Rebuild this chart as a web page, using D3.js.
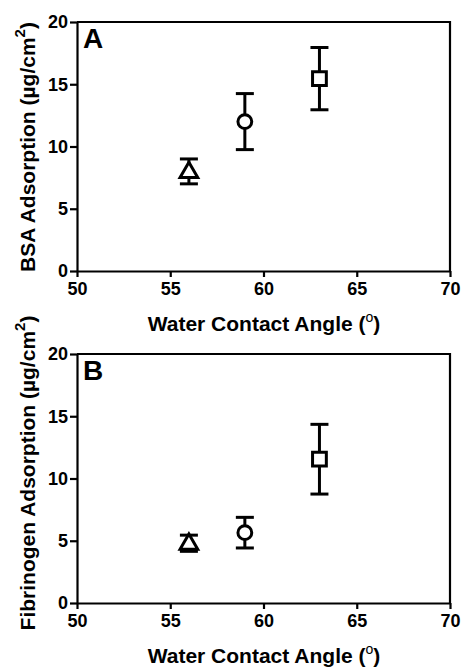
<!DOCTYPE html>
<html>
<head>
<meta charset="utf-8">
<script src="https://cdn.jsdelivr.net/npm/d3@7"></script>
<style>
  html, body { margin: 0; padding: 0; background: #fff; }
  svg { display: block; }
  text { font-family: "Liberation Sans", Arial, sans-serif; font-weight: bold; fill: #000; }
</style>
</head>
<body>
<svg id="chart" width="461" height="667"></svg>
<script>
// Water contact angle (degrees) for the three surfaces
const angles = [56, 59, 63];
const markerShapes = ["triangle", "circle", "square"];

// BSA adsorption, mean and error (µg/cm²)
const bsaMean = [8.0, 12.0, 15.45];
const bsaErr = [1.0, 2.25, 2.5];

// Fibrinogen adsorption, mean and error (µg/cm²)
const fibMean = [4.8, 5.65, 11.55];
const fibErr = [0.65, 1.23, 2.8];

const xTicks = [50, 55, 60, 65, 70];
const yTicks = [0, 5, 10, 15, 20];

const panels = [
  { letter: "A", protein: "BSA", mean: bsaMean, err: bsaErr, top: 22, labelCenter: 147 },
  { letter: "B", protein: "Fibrinogen", mean: fibMean, err: fibErr, top: 354, labelCenter: 473 }
];

const svg = d3.select("#chart");
const left = 77, right = 450, plotH = 249;

const x = d3.scaleLinear().domain([50, 70]).range([left, right]);

panels.forEach(p => {
  const y = d3.scaleLinear().domain([0, 20]).range([p.top + plotH, p.top]);
  const g = svg.append("g");

  // frame: top and right sides
  g.append("path")
    .attr("d", `M${left},${p.top}H${right}V${p.top + plotH}`)
    .attr("fill", "none").attr("stroke", "#000").attr("stroke-width", 2.2);

  // y axis
  const yAxis = g.append("g")
    .attr("transform", `translate(${left},0)`)
    .call(d3.axisLeft(y).tickValues(yTicks).tickSize(7).tickPadding(2).tickSizeOuter(0));
  // x axis
  const xAxis = g.append("g")
    .attr("transform", `translate(0,${p.top + plotH})`)
    .call(d3.axisBottom(x).tickValues(xTicks).tickSize(6).tickPadding(5).tickSizeOuter(0));

  [yAxis, xAxis].forEach(a => {
    a.select(".domain").attr("stroke-width", 2.2);
    a.selectAll(".tick line").attr("stroke-width", 2.2);
    a.selectAll(".tick text")
      .style("font-size", "18px")
      .style("font-family", '"Liberation Sans", Arial, sans-serif')
      .style("font-weight", "bold")
      .attr("fill", "#000");
    a.attr("font-size", null);
  });

  // panel letter
  g.append("text")
    .attr("x", 83).attr("y", p.top + 26)
    .style("font-size", "28px")
    .text(p.letter);

  // x axis title
  const xt = g.append("text")
    .attr("x", (left + right) / 2 + 0.5)
    .attr("y", p.top + plotH + 60)
    .attr("text-anchor", "middle")
    .style("font-size", "21px");
  xt.append("tspan").text("Water Contact Angle (");
  xt.append("tspan").attr("dy", -9).style("font-size", "14px").style("font-weight", "normal").text("o");
  xt.append("tspan").attr("dy", 9).text(")");

  // y axis title
  const yt = g.append("text")
    .attr("transform", `translate(35,${p.labelCenter}) rotate(-90)`)
    .attr("text-anchor", "middle")
    .style("font-size", "21px");
  yt.append("tspan").text(p.protein + " Adsorption (\u00b5g/cm");
  yt.append("tspan").attr("dy", -10).style("font-size", "15px").text("2");
  yt.append("tspan").attr("dy", 10).text(")");

  const pts = angles.map((a, i) => ({ a, m: p.mean[i], e: p.err[i], shape: markerShapes[i] }));

  // error bars
  const capW = 9;
  const eb = g.selectAll(".err").data(pts).enter().append("g")
    .attr("stroke", "#000").attr("stroke-width", 3).attr("fill", "none");
  eb.append("line")
    .attr("x1", d => x(d.a)).attr("x2", d => x(d.a))
    .attr("y1", d => y(d.m + d.e)).attr("y2", d => y(d.m - d.e));
  eb.append("line")
    .attr("x1", d => x(d.a) - capW).attr("x2", d => x(d.a) + capW)
    .attr("y1", d => y(d.m + d.e)).attr("y2", d => y(d.m + d.e));
  eb.append("line")
    .attr("x1", d => x(d.a) - capW).attr("x2", d => x(d.a) + capW)
    .attr("y1", d => y(d.m - d.e)).attr("y2", d => y(d.m - d.e));

  // markers: open symbols
  const symType = { triangle: d3.symbolTriangle, circle: d3.symbolCircle, square: d3.symbolSquare };
  const symSize = { triangle: 135, circle: 150, square: 190 };
  g.selectAll(".mk").data(pts).enter().append("path")
    .attr("transform", d => `translate(${x(d.a)},${y(d.m) + (d.shape === "triangle" ? 1 : 0)})`)
    .attr("d", d => d3.symbol(symType[d.shape], symSize[d.shape])())
    .attr("fill", "#fff").attr("stroke", "#000").attr("stroke-width", 3);
});
</script>
</body>
</html>
